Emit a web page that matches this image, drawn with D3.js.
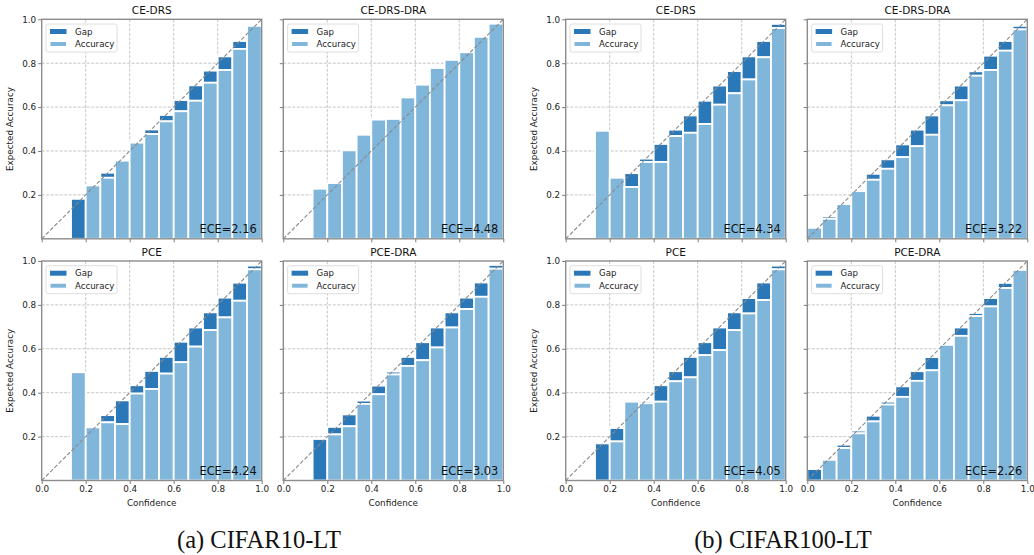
<!DOCTYPE html>
<html>
<head>
<meta charset="utf-8">
<script src="https://cdn.jsdelivr.net/npm/d3@7"></script>
<style>
  body { margin: 0; background: #fff; }
  text { font-family: "DejaVu Sans", sans-serif; }
  text.caption { font-family: "Liberation Serif", "Times New Roman", serif; }
</style>
</head>
<body>
<svg id="chart" width="1034" height="555"></svg>
<script>
// 15 confidence bins per reliability diagram
const nBins = 15;
const titles = ['CE-DRS', 'CE-DRS-DRA', 'PCE', 'PCE-DRA'];
const captions = ['(a) CIFAR10-LT', '(b) CIFAR100-LT'];
const eceCifar10 = [2.16, 4.48, 4.24, 3.03];
const eceCifar100 = [4.34, 3.22, 4.05, 2.26];
const xTicks = [0, 0.2, 0.4, 0.6, 0.8, 1.0];
const yTicks = [0.2, 0.4, 0.6, 0.8, 1.0];

// CIFAR10-LT (null = empty bin)
const accC10CeDrs = [null, null, 0, 0.243, 0.278, 0.356, 0.438, 0.477, 0.535, 0.581, 0.629, 0.711, 0.769, 0.865, 0.970];
const confC10CeDrs = [null, null, 0.182, 0.235, 0.301, 0.350, 0.430, 0.498, 0.564, 0.632, 0.699, 0.766, 0.831, 0.901, 0.965];
const accC10CeDrsDra = [null, null, 0.228, 0.254, 0.403, 0.474, 0.543, 0.546, 0.644, 0.702, 0.778, 0.815, 0.850, 0.920, 0.980];
const confC10CeDrsDra = [null, null, 0.170, 0.235, 0.300, 0.365, 0.432, 0.498, 0.563, 0.630, 0.697, 0.765, 0.832, 0.900, 0.975];
const accC10Pce = [null, null, 0.493, 0.242, 0.265, 0.257, 0.396, 0.417, 0.487, 0.539, 0.610, 0.685, 0.743, 0.819, 0.962];
const confC10Pce = [null, null, 0.170, 0.235, 0.298, 0.365, 0.434, 0.499, 0.563, 0.632, 0.697, 0.766, 0.833, 0.901, 0.979];
const accC10PceDra = [null, null, 0, 0.210, 0.247, 0.349, 0.393, 0.483, 0.522, 0.548, 0.606, 0.697, 0.781, 0.837, 0.965];
const confC10PceDra = [null, null, 0.189, 0.244, 0.301, 0.364, 0.432, 0.496, 0.563, 0.630, 0.697, 0.766, 0.833, 0.902, 0.982];

// CIFAR100-LT
const accC100CeDrs = [null, null, 0.492, 0.278, 0.236, 0.350, 0.350, 0.468, 0.483, 0.523, 0.611, 0.663, 0.726, 0.827, 0.960];
const confC100CeDrs = [null, null, 0.175, 0.240, 0.299, 0.365, 0.432, 0.497, 0.562, 0.629, 0.698, 0.764, 0.831, 0.901, 0.979];
const accC100CeDrsDra = [0.050, 0.091, 0.158, 0.217, 0.269, 0.319, 0.372, 0.422, 0.474, 0.608, 0.631, 0.743, 0.769, 0.857, 0.954];
const confC100CeDrsDra = [0.040, 0.102, 0.155, 0.215, 0.296, 0.362, 0.430, 0.497, 0.562, 0.631, 0.698, 0.763, 0.834, 0.901, 0.970];
const accC100Pce = [null, null, 0, 0.178, 0.359, 0.352, 0.359, 0.452, 0.470, 0.571, 0.594, 0.685, 0.761, 0.822, 0.962];
const confC100Pce = [null, null, 0.169, 0.239, 0.300, 0.362, 0.434, 0.498, 0.563, 0.630, 0.697, 0.766, 0.831, 0.902, 0.979];
const accC100PceDra = [0, 0.094, 0.148, 0.215, 0.269, 0.346, 0.381, 0.454, 0.502, 0.618, 0.659, 0.749, 0.793, 0.877, 0.959];
const confC100PceDra = [0.052, 0.090, 0.163, 0.227, 0.295, 0.359, 0.429, 0.498, 0.562, 0.615, 0.697, 0.763, 0.831, 0.900, 0.955];

const groups = [
  { caption: captions[0], ece: eceCifar10,
    acc: [accC10CeDrs, accC10CeDrsDra, accC10Pce, accC10PceDra],
    conf: [confC10CeDrs, confC10CeDrsDra, confC10Pce, confC10PceDra] },
  { caption: captions[1], ece: eceCifar100,
    acc: [accC100CeDrs, accC100CeDrsDra, accC100Pce, accC100PceDra],
    conf: [confC100CeDrs, confC100CeDrsDra, confC100Pce, confC100PceDra] }
];

const gapColor = '#2b78b8';
const accColor = '#7fb6da';

const svg = d3.select('#chart');

const panelW = 220;
const panelH = 219.5;
const colLeft = [41.7, 283.3];
const rowTop = [19.3, 261];
const groupShift = [0, 524];
const captionX = [259, 783];

const x = d3.scaleLinear().domain([0, 1]).range([0, panelW]);
const y = d3.scaleLinear().domain([0, 1]).range([panelH, 0]);

function drawPanel(left, top, title, acc, conf, ece, showYLabels, showXLabels) {
  const g = svg.append('g').attr('transform', `translate(${left}, ${top})`);

  // grid
  g.append('g').selectAll('line')
    .data(xTicks.slice(1, -1)).enter().append('line')
      .attr('x1', d => x(d)).attr('x2', d => x(d))
      .attr('y1', 0).attr('y2', panelH)
      .attr('stroke', '#b8b8b8').attr('stroke-width', 0.8)
      .attr('stroke-dasharray', '3,1.5');
  g.append('g').selectAll('line')
    .data(yTicks.slice(0, -1)).enter().append('line')
      .attr('x1', 0).attr('x2', panelW)
      .attr('y1', d => y(d)).attr('y2', d => y(d))
      .attr('stroke', '#b8b8b8').attr('stroke-width', 0.8)
      .attr('stroke-dasharray', '3,1.5');

  const bins = d3.range(nBins)
    .map(i => ({ i, acc: acc[i], conf: conf[i] }))
    .filter(d => d.acc !== null);

  // gap bars first, accuracy bars drawn over them
  g.append('g').selectAll('rect')
    .data(bins).enter().append('rect')
      .attr('x', d => x(d.i / nBins))
      .attr('width', x(1 / nBins))
      .attr('y', d => y(Math.max(d.acc, d.conf)))
      .attr('height', d => Math.abs(y(d.acc) - y(d.conf)))
      .attr('fill', gapColor)
      .attr('stroke', '#fff').attr('stroke-width', 1.8);

  g.append('g').selectAll('rect')
    .data(bins.filter(d => d.acc > 0)).enter().append('rect')
      .attr('x', d => x(d.i / nBins))
      .attr('width', x(1 / nBins))
      .attr('y', d => y(d.acc))
      .attr('height', d => panelH - y(d.acc))
      .attr('fill', accColor)
      .attr('stroke', '#fff').attr('stroke-width', 1.8);

  // perfect calibration
  g.append('line')
    .attr('x1', x(0)).attr('y1', y(0))
    .attr('x2', x(1)).attr('y2', y(1))
    .attr('stroke', '#8a8a8a').attr('stroke-width', 1.1)
    .attr('stroke-dasharray', '4,2');

  // axes
  const xAxis = d3.axisBottom(x).tickValues(xTicks).tickSize(3.5).tickPadding(2)
    .tickFormat(showXLabels ? d3.format('.1f') : '');
  const yAxis = d3.axisLeft(y).tickValues(yTicks).tickSize(3.5).tickPadding(2)
    .tickFormat(showYLabels ? d3.format('.1f') : '');

  const xg = g.append('g').attr('transform', `translate(0, ${panelH})`).call(xAxis);
  const yg = g.append('g').call(yAxis);
  [xg, yg].forEach(a => {
    a.select('.domain').remove();
    a.selectAll('line').attr('stroke', '#555').attr('stroke-width', 0.8);
    a.selectAll('text').attr('font-size', 8.8).attr('fill', '#222');
  });

  // spines
  g.append('rect')
    .attr('width', panelW).attr('height', panelH)
    .attr('fill', 'none').attr('stroke', '#8c8c8c').attr('stroke-width', 1.4);

  // title
  g.append('text')
    .attr('x', panelW / 2).attr('y', -5)
    .attr('text-anchor', 'middle').attr('font-size', 10.5).attr('fill', '#111')
    .text(title);

  // ECE
  g.append('text')
    .attr('x', panelW - 5).attr('y', panelH - 6)
    .attr('text-anchor', 'end').attr('font-size', 11.4).attr('fill', '#111')
    .text(`ECE=${ece.toFixed(2)}`);

  // legend
  const lg = g.append('g').attr('transform', 'translate(4.3, 4.7)');
  lg.append('rect')
    .attr('width', 71).attr('height', 28).attr('rx', 2)
    .attr('fill', '#fff').attr('fill-opacity', 0.85)
    .attr('stroke', '#d6d6d6').attr('stroke-width', 0.8);
  lg.append('rect')
    .attr('x', 4).attr('y', 5).attr('width', 16.5).attr('height', 5)
    .attr('fill', gapColor);
  lg.append('rect')
    .attr('x', 4).attr('y', 17.5).attr('width', 16.5).attr('height', 5)
    .attr('fill', accColor).attr('stroke', '#fff').attr('stroke-width', 1);
  lg.append('text').attr('x', 29).attr('y', 10.8)
    .attr('font-size', 8.6).attr('fill', '#222').text('Gap');
  lg.append('text').attr('x', 29).attr('y', 23.3)
    .attr('font-size', 8.6).attr('fill', '#222').text('Accuracy');

  if (showYLabels) {
    g.append('text')
      .attr('transform', `translate(-29, ${panelH / 2}) rotate(-90)`)
      .attr('text-anchor', 'middle').attr('font-size', 8.8).attr('fill', '#222')
      .text('Expected Accuracy');
  }
  if (showXLabels) {
    g.append('text')
      .attr('x', panelW / 2).attr('y', panelH + 25.5)
      .attr('text-anchor', 'middle').attr('font-size', 8.8).attr('fill', '#222')
      .text('Confidence');
  }
}

groups.forEach((grp, gi) => {
  for (let p = 0; p < 4; p++) {
    const col = p % 2;
    const row = Math.floor(p / 2);
    drawPanel(colLeft[col] + groupShift[gi], rowTop[row], titles[p],
      grp.acc[p], grp.conf[p], grp.ece[p], col === 0, row === 1);
  }
  svg.append('text')
    .attr('class', 'caption')
    .attr('x', captionX[gi]).attr('y', 548)
    .attr('text-anchor', 'middle')
    .attr('font-size', 24.5).attr('fill', '#111')
    .text(grp.caption);
});
</script>
</body>
</html>
